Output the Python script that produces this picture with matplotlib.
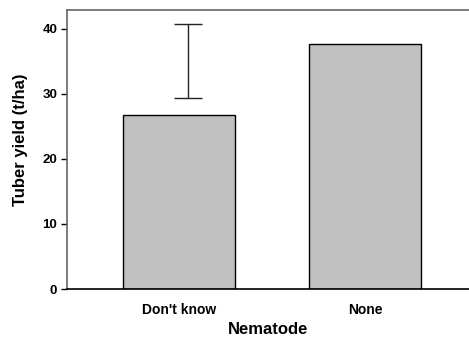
import matplotlib
matplotlib.use("Agg")
import matplotlib.pyplot as plt
import numpy as np

categories = ["Don't know", "None"]
yields = [26.8, 37.6]
err_low = [29.3]
err_high = [40.7]
yticks = [0, 10, 20, 30, 40]

plt.rcParams['font.family'] = ['Liberation Sans', 'DejaVu Sans']
plt.rcParams['font.weight'] = 'bold'

fig = plt.figure(figsize=(4.69, 3.40), dpi=100)
ax = fig.add_axes([67/469, 1-289/340, 402/469, 279/340])

x = np.arange(len(categories))
ax.bar(x, yields, width=0.6, color='#c0c0c0', edgecolor='black', linewidth=1)

# error bar (upper range) on first bar
mid = (err_low[0] + err_high[0]) / 2
half = (err_high[0] - err_low[0]) / 2
ax.errorbar([x[0] + 0.05], [mid], yerr=[half], fmt='none', ecolor='#222222',
            elinewidth=1, capsize=10, capthick=1)

ax.set_xlim(-0.6, 1.556)
ax.set_ylim(0, 42.9)
ax.set_yticks(yticks)
ax.set_yticklabels([str(t) for t in yticks], fontsize=9.5, fontweight='bold')
ax.set_xticks(x)
ax.set_xticklabels(categories, fontsize=10, fontweight='bold')
ax.tick_params(axis='x', length=0, pad=10)
ax.tick_params(axis='y', length=4, width=1, direction='out', pad=3)

ax.spines['right'].set_visible(False)
ax.spines['left'].set_color('#666666')
ax.spines['left'].set_linewidth(1.2)
ax.spines['top'].set_color('#666666')
ax.spines['top'].set_linewidth(1.2)
ax.spines['bottom'].set_color('black')
ax.spines['bottom'].set_linewidth(1.2)

ax.set_xlabel('Nematode', fontsize=12, fontweight='bold')
ax.xaxis.set_label_coords(0.5, -(322-289)/279)
ax.set_ylabel('Tuber yield (t/ha)', fontsize=12, fontweight='bold')
ax.yaxis.set_label_coords(-(67-28)/402, (289-140)/279)

fig.savefig('out.png', dpi=100)
